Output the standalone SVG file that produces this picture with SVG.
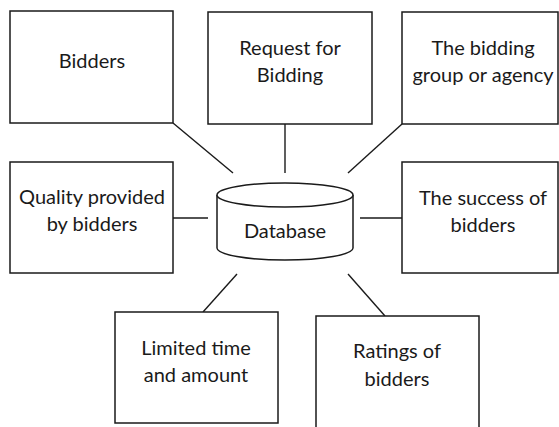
<svg xmlns="http://www.w3.org/2000/svg" width="559" height="427" viewBox="0 0 559 427">
<style>
.box{fill:#fff;stroke:#1a1a1a;stroke-width:1.5}
.ln{stroke:#1a1a1a;stroke-width:1.4;fill:none}
text{font-family:Lato,"Liberation Sans",sans-serif;font-size:20px;fill:#1a1a1a;text-anchor:middle}
</style>
<rect width="559" height="427" fill="#fff"/>
<g id="connectors">
<line class="ln" x1="173" y1="123" x2="233" y2="173"/>
<line class="ln" x1="285" y1="124" x2="285" y2="173"/>
<line class="ln" x1="402" y1="124" x2="348" y2="173"/>
<line class="ln" x1="173" y1="218" x2="208" y2="218"/>
<line class="ln" x1="360" y1="218" x2="402" y2="218"/>
<line class="ln" x1="237" y1="274" x2="203" y2="312"/>
<line class="ln" x1="348" y1="274" x2="385" y2="316"/>
</g>
<g id="bidders">
<rect class="box" x="10" y="11" width="163" height="112"/>
<text x="92" y="68">Bidders</text>
</g>
<g id="request">
<rect class="box" x="208" y="12" width="164" height="112"/>
<text x="290" y="55">Request for</text>
<text x="290" y="82">Bidding</text>
</g>
<g id="agency">
<rect class="box" x="402" y="12" width="156" height="112"/>
<text x="483" y="55">The bidding</text>
<text x="483" y="82">group or agency</text>
</g>
<g id="quality">
<rect class="box" x="10" y="162" width="163" height="111"/>
<text x="92" y="204">Quality provided</text>
<text x="92" y="231">by bidders</text>
</g>
<g id="database">
<path class="box" d="M217,195 L217,248 A68,12 0 0 0 353,248 L353,195"/>
<ellipse class="box" cx="285" cy="195" rx="68" ry="12"/>
<text x="285" y="238">Database</text>
</g>
<g id="success">
<rect class="box" x="402" y="162" width="156" height="111"/>
<text x="483" y="205">The success of</text>
<text x="483" y="232">bidders</text>
</g>
<g id="limited">
<rect class="box" x="115" y="312" width="163" height="111"/>
<text x="196" y="355">Limited time</text>
<text x="196" y="382">and amount</text>
</g>
<g id="ratings">
<rect class="box" x="316" y="316" width="163" height="120"/>
<text x="397" y="358">Ratings of</text>
<text x="397" y="386">bidders</text>
</g>
</svg>
